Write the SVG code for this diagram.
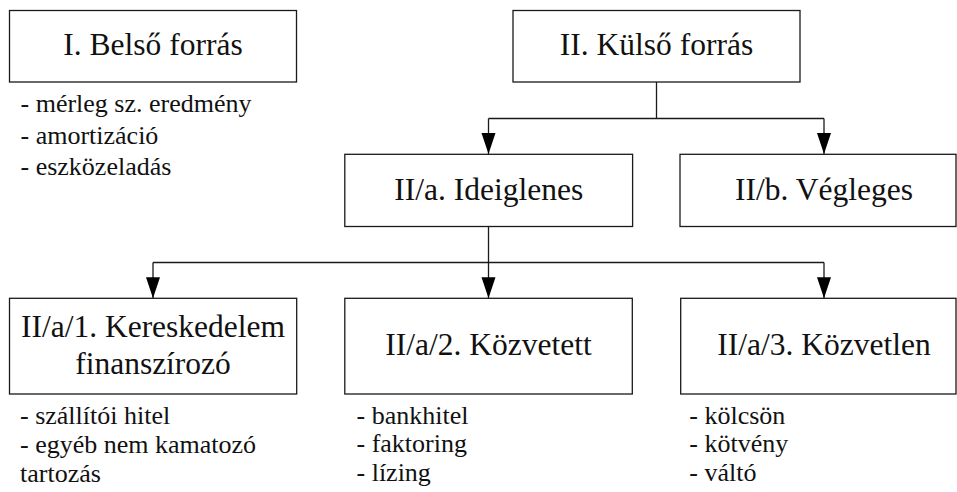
<svg xmlns="http://www.w3.org/2000/svg" width="957" height="492" viewBox="0 0 957 492">
  <style>
    .box { fill: #ffffff; stroke: #1a1a1a; stroke-width: 1.3; }
    .link { fill: none; stroke: #1a1a1a; stroke-width: 1.3; }
    text { font-family: "Liberation Serif", "Times New Roman", serif; fill: #111111; }
    .title { font-size: 31.5px; text-anchor: middle; }
    .item { font-size: 26px; }
  </style>
  <defs>
    <marker id="arrow" markerUnits="userSpaceOnUse" markerWidth="22" markerHeight="16" viewBox="0 -8 22 16" refX="21" refY="0" orient="auto">
      <path d="M0,-7 L21,0 L0,7 Z" fill="#000000"/>
    </marker>
  </defs>

  <rect width="957" height="492" fill="#ffffff"/>

  <!-- connectors -->
  <g id="connectors">
    <path class="link" d="M656.5,82 V118.5 M488.5,118.5 H824"/>
    <path class="link" d="M488.5,118.5 V154" marker-end="url(#arrow)"/>
    <path class="link" d="M824,118.5 V154" marker-end="url(#arrow)"/>
    <path class="link" d="M488.5,226.5 V262.5 M153,262.5 H824"/>
    <path class="link" d="M153,262.5 V298.3" marker-end="url(#arrow)"/>
    <path class="link" d="M488.5,262.5 V298.3" marker-end="url(#arrow)"/>
    <path class="link" d="M824,262.5 V298.3" marker-end="url(#arrow)"/>
  </g>

  <!-- internal source -->
  <g id="belso">
    <rect class="box" x="9.5" y="10.5" width="287" height="71.5"/>
    <text class="title" x="153" y="55">I. Belső forrás</text>
    <text class="item" x="20.5" y="112">- mérleg sz. eredmény</text>
    <text class="item" x="20.5" y="143.5">- amortizáció</text>
    <text class="item" x="20.5" y="175">- eszközeladás</text>
  </g>

  <!-- external source -->
  <g id="kulso">
    <rect class="box" x="513" y="10.5" width="287" height="71.5"/>
    <text class="title" x="656.5" y="55">II. Külső forrás</text>
  </g>

  <g id="ideiglenes">
    <rect class="box" x="344.8" y="154.3" width="287.8" height="72.2"/>
    <text class="title" x="488.7" y="200">II/a. Ideiglenes</text>
  </g>

  <g id="vegleges">
    <rect class="box" x="680" y="154.3" width="276" height="72.2"/>
    <text class="title" x="824" y="199.5">II/b. Végleges</text>
  </g>

  <g id="kereskedelem">
    <rect class="box" x="9.5" y="298.3" width="287.2" height="95.7"/>
    <text class="title" x="153" y="336.7">II/a/1. Kereskedelem</text>
    <text class="title" x="153" y="374">finanszírozó</text>
    <text class="item" x="20" y="424">- szállítói hitel</text>
    <text class="item" x="20" y="452.7">- egyéb nem kamatozó</text>
    <text class="item" x="20" y="482">tartozás</text>
  </g>

  <g id="kozvetett">
    <rect class="box" x="344.8" y="298.3" width="287.5" height="95.7"/>
    <text class="title" x="488.5" y="355">II/a/2. Közvetett</text>
    <text class="item" x="356.5" y="423.5">- bankhitel</text>
    <text class="item" x="356.5" y="452">- faktoring</text>
    <text class="item" x="356.5" y="481">- lízing</text>
  </g>

  <g id="kozvetlen">
    <rect class="box" x="680.7" y="298.3" width="275.3" height="95.7"/>
    <text class="title" x="824" y="355">II/a/3. Közvetlen</text>
    <text class="item" x="689.3" y="423.5">- kölcsön</text>
    <text class="item" x="689.3" y="452">- kötvény</text>
    <text class="item" x="689.3" y="481">- váltó</text>
  </g>
</svg>
